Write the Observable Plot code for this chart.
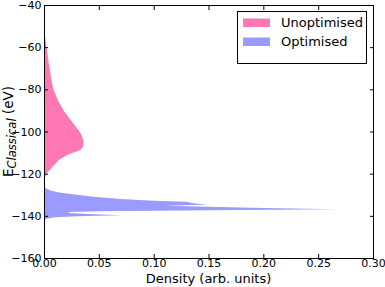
<!DOCTYPE html>
<html>
<head>
<meta charset="utf-8">
<script src="https://cdn.jsdelivr.net/npm/d3@7"></script>
<script src="https://cdn.jsdelivr.net/npm/@observablehq/plot@0.6"></script>
<style>
  html, body { margin: 0; padding: 0; background: #fff; }
  #chart { width: 385px; height: 287px; }
</style>
</head>
<body>
<div id="chart"></div>
<script>
// Unoptimised density profile (energy in eV, density)
const unoptE = [-49.5, -55, -60, -65, -69.6, -75, -80, -85.5, -90.2, -95, -99.8, -102, -104, -106, -107.2, -108.8, -110, -111.2, -113.5, -116.7, -119.8, -121.5, -123];
const unoptD = [0, 0.0010, 0.0024, 0.0036, 0.0049, 0.0066, 0.0085, 0.013, 0.018, 0.025, 0.032, 0.0345, 0.0358, 0.036, 0.0355, 0.033, 0.027, 0.021, 0.0135, 0.0078, 0.0026, 0.0012, 0];

// Optimised density profile
const optE = [-126, -127, -128, -129, -130, -131, -132, -132.8, -133.3, -134, -134.7, -135.2, -135.6, -136.3, -136.9, -137.4, -137.8, -138.2, -138.6, -139.2, -139.7, -140.2, -140.7, -141.3, -142];
const optD = [0, 0.002, 0.006, 0.015, 0.030, 0.045, 0.070, 0.100, 0.130, 0.136, 0.149, 0.110, 0.140, 0.200, 0.268, 0.150, 0.050, 0.024, 0.022, 0.045, 0.071, 0.030, 0.010, 0.003, 0];

const xTicks = [0, 0.05, 0.10, 0.15, 0.20, 0.25, 0.30];
const yTicks = [-160, -140, -120, -100, -80, -60, -40];
const seriesNames = ["Unoptimised", "Optimised"];
const seriesColors = ["#ff78b4", "#9b9bff"];
const xLabel = "Density (arb. units)";

const unopt = unoptE.map((e, i) => ({y: e, x: unoptD[i]}));
const opt = optE.map((e, i) => ({y: e, x: optD[i]}));

const chart = Plot.plot({
  width: 385,
  height: 287,
  marginLeft: 44,
  marginRight: 12,
  marginTop: 5,
  marginBottom: 29,
  style: {fontFamily: "DejaVu Sans", fontSize: "11px", color: "#000", background: "#fff"},
  x: {domain: [0, 0.3]},
  y: {domain: [-160, -40]},
  marks: [
    Plot.areaX(unopt, {y: "y", x: "x", fill: seriesColors[0], curve: "linear"}),
    Plot.areaX(opt, {y: "y", x: "x", fill: seriesColors[1], curve: "linear"}),
    Plot.axisX({ticks: xTicks, tickFormat: d3.format(".2f"), tickSize: -4, tickPadding: 5, label: null, fontSize: 11}),
    Plot.axisX({anchor: "top", ticks: xTicks, tickSize: -4, tickFormat: () => "", label: null}),
    Plot.axisY({ticks: yTicks, tickFormat: d3.format("d"), tickSize: -4, tickPadding: 7, label: null, fontSize: 11}),
    Plot.axisY({anchor: "right", ticks: yTicks, tickSize: -4, tickFormat: () => "", label: null}),
    Plot.frame({stroke: "#000", strokeWidth: 1})
  ]
});

document.getElementById("chart").appendChild(chart);

const svg = d3.select(chart);

// x-axis label
svg.append("text")
  .attr("x", 208.5).attr("y", 283)
  .attr("text-anchor", "middle")
  .style("font-family", "DejaVu Sans").style("font-size", "13px")
  .attr("fill", "#000")
  .text(xLabel);

// y-axis label with subscript
const yl = svg.append("text")
  .attr("transform", "translate(13,131.5) rotate(-90)")
  .attr("text-anchor", "middle")
  .style("font-family", "DejaVu Sans")
  .style("font-size", "13.5px")
  .attr("fill", "#000");
yl.append("tspan").text("E");
yl.append("tspan").attr("dy", 3).style("font-size", "11.5px").style("font-style", "italic").text("Classical");
yl.append("tspan").attr("dy", -3).text(" (eV)");

// legend
const lg = svg.append("g").attr("text-anchor", "start");
lg.append("rect").attr("x", 237.5).attr("y", 11.5).attr("width", 129).attr("height", 52)
  .attr("fill", "#fff").attr("stroke", "#000").attr("stroke-width", 1);
seriesNames.forEach((name, i) => {
  const cy = 22.5 + i * 19;
  lg.append("rect").attr("x", 243).attr("y", cy - 4).attr("width", 27).attr("height", 8.5)
    .attr("fill", seriesColors[i]);
  lg.append("text").attr("x", 281).attr("y", cy + 4.5)
    .attr("text-anchor", "start")
    .style("font-family", "DejaVu Sans").style("font-size", "13px").attr("fill", "#000")
    .text(name);
});
</script>
</body>
</html>
